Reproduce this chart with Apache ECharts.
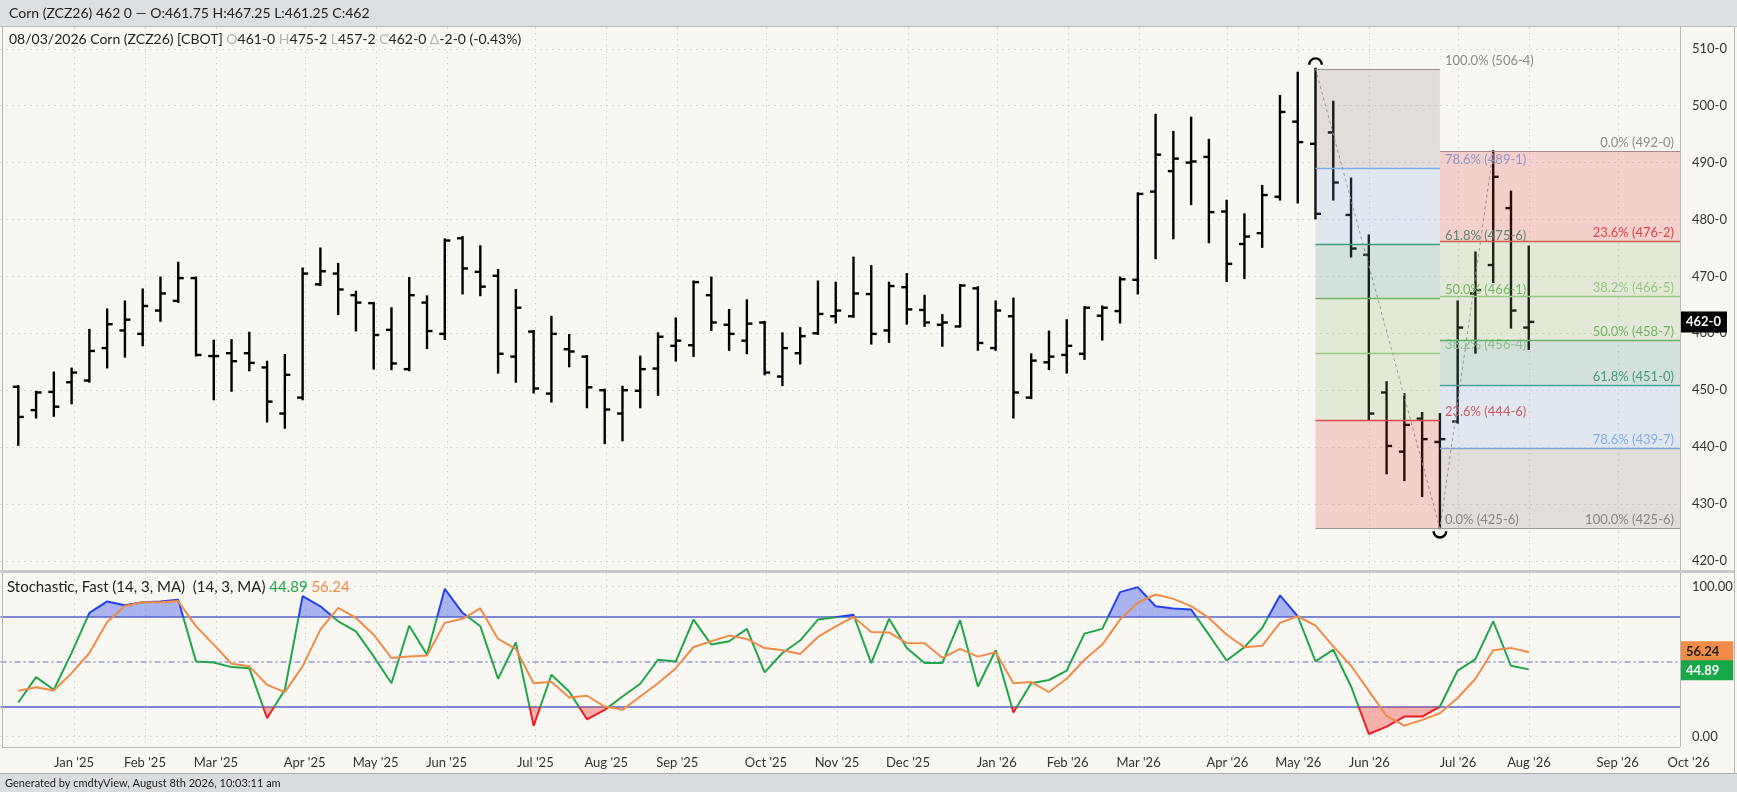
<!DOCTYPE html>
<html><head><meta charset="utf-8">
<script src="https://cdn.jsdelivr.net/npm/echarts@6/dist/echarts.min.js"></script>
<style>html,body{margin:0;padding:0;background:#f9f7f1;}#c{width:1737px;height:792px;}</style>
</head><body><div id="c"></div>
<script>
// ---------- DATA ----------
const monthTickIndex  = [3,7,11,16,20,24,29,33,37,42,46,50,55,59,63,68,72,76,81,85,90,94];
const monthTickLabels = ["Jan '25","Feb '25","Mar '25","Apr '25","May '25","Jun '25","Jul '25","Aug '25","Sep '25","Oct '25","Nov '25","Dec '25","Jan '26","Feb '26","Mar '26","Apr '26","May '26","Jun '26","Jul '26","Aug '26","Sep '26","Oct '26"];

const openP  = [450.6,446.5,449.7,451.4,451.7,457.4,460.5,459.9,464.0,465.7,469.7,456.0,456.5,456.5,454.0,445.9,448.7,468.6,470.5,466.7,465.3,460.6,453.7,465.4,459.9,476.7,470.8,470.1,455.9,460.3,449.4,457.2,455.9,450.0,445.9,449.9,453.8,457.8,457.9,466.7,461.5,458.7,461.9,452.4,456.5,460.0,463.0,463.0,466.9,460.5,468.1,464.1,461.5,461.2,467.9,457.4,463.0,448.7,454.9,456.2,456.4,463.1,463.9,469.4,484.9,488.5,490.0,491.0,481.4,475.7,477.6,484.0,497.2,493.3,495.3,480.8,473.8,449.6,439.2,445.0,440.9,444.5,467.0,472.0,482.0,461.0];
const highP  = [450.7,449.7,453.1,453.8,460.6,464.2,465.6,467.7,469.8,472.4,469.8,458.7,458.8,460.1,455.0,456.2,471.4,474.9,472.2,467.3,465.3,464.4,469.7,466.5,476.5,476.9,475.3,471.1,467.6,460.4,462.9,459.7,456.0,450.1,450.6,455.9,460.0,462.6,469.1,469.8,464.1,465.8,462.0,460.0,460.9,469.1,468.9,473.3,471.8,468.9,470.4,466.6,463.2,468.5,468.1,465.6,466.1,456.3,460.3,462.3,464.6,464.7,469.8,484.6,498.4,495.4,497.9,494.0,483.3,480.9,485.9,501.7,505.8,506.5,500.7,487.2,477.2,451.4,449.3,446.0,445.8,465.6,474.2,492.0,484.9,475.25];
const lowP   = [440.4,445.2,445.5,447.7,451.5,454.0,455.9,457.9,462.2,465.5,456.1,448.4,449.9,453.5,444.5,443.4,448.4,468.5,463.4,460.5,453.8,453.7,453.5,457.4,459.0,467.0,466.7,453.1,451.5,449.6,448.0,454.2,447.0,440.7,441.2,447.0,449.2,455.2,456.0,460.6,457.1,456.5,452.8,450.9,454.7,459.9,461.9,462.9,458.2,458.5,461.7,461.3,457.8,461.2,457.1,457.1,445.2,448.6,453.7,453.1,455.5,458.9,461.9,467.0,473.2,476.7,482.7,476.0,469.2,469.7,475.2,483.5,483.0,480.2,483.5,473.5,444.8,435.4,434.2,431.4,425.75,444.3,456.6,469.0,461.0,457.25];
const closeP = [445.3,449.6,447.1,453.1,456.9,461.6,462.4,464.8,467.0,469.7,456.2,456.0,455.1,454.8,448.0,452.7,470.5,470.9,467.7,465.4,459.7,454.7,466.7,460.4,476.3,471.4,468.2,456.4,464.5,450.3,459.9,456.8,450.5,446.6,450.0,453.7,459.4,458.7,469.0,461.9,459.9,461.7,453.1,457.4,459.5,463.4,464.0,467.0,459.9,468.3,464.2,461.9,461.9,468.4,458.3,464.0,449.6,455.2,455.9,457.8,464.5,464.5,469.5,484.5,491.4,490.7,490.2,481.3,472.2,477.0,484.3,498.9,493.6,481.0,486.5,474.9,445.9,440.2,443.9,441.4,441.4,461.0,467.6,487.5,464.0,462.0];

const stochK = [22.8,39.7,31.3,55.9,82.6,90.2,87.7,89.7,90.2,91.3,50.2,49.5,46.4,45.7,12.3,31.3,93.7,86.9,76.9,70.2,53.5,35.6,74.0,54.6,98.6,82.6,73.6,38.6,62.9,7.2,41.3,30.1,11.6,17.9,26.8,35.3,51.3,50.2,78.1,61.4,63.6,71.9,42.9,55.8,64.1,78.1,79.6,81.3,49.1,78.6,59.2,49.1,49.1,77.7,33.5,57.6,16.1,35.6,37.8,44.1,68.7,71.9,96.4,99.7,87.0,85.5,84.8,68.0,50.8,59.7,72.5,94.2,80.3,50.2,58.0,33.5,1.8,6.7,13.4,13.4,20.1,44.1,51.7,76.9,47.3,44.89];
const stochD = [30.6,33.0,30.8,42.4,55.8,76.4,87.1,89.7,89.7,90.4,73.6,61.4,48.6,46.9,34.6,29.7,46.9,71.4,85.9,79.2,68.0,52.4,53.5,54.2,75.9,78.6,85.5,65.2,58.5,35.6,36.7,26.2,27.3,20.1,17.9,26.8,35.6,45.7,59.8,63.6,67.4,65.2,59.1,57.6,55.1,66.5,73.6,79.8,69.8,69.5,62.4,62.3,52.6,58.6,53.4,56.3,35.7,36.4,29.8,38.6,51.3,61.4,78.1,89.3,94.8,91.9,87.0,79.2,68.0,59.7,60.6,75.9,80.3,74.0,60.2,47.3,30.6,13.8,7.4,11.2,15.6,25.8,38.6,57.6,59.2,56.24];

const fibARatios = [100,78.6,61.8,50,38.2,23.6,0];
const fibAPrices = [506.5,489.125,475.75,466.125,456.5,444.75,425.75];
const fibBRatios = [0,23.6,38.2,50,61.8,78.6,100];
const fibBPrices = [492.0,476.25,466.625,458.875,451.0,439.875,425.75];
const fibSwing   = [[73,506.5],[80,425.75],[83,492.0]];

// ---------- LAYOUT / STYLE ----------
const FONT = 'Lato, "Noto Sans", sans-serif';
const LY = {left:0.53, plotRight:1680, labelRight:1700, pxPerWeek:17.77,
  priceTop:48.8, priceH:512.1, stochTop:586.7, stochH:150,
  panelTop:27, priceBottom:570, stochTopEdge:573, stochBottom:747, footerTop:773};
const xMax  = -1 + (LY.plotRight - LY.left) / LY.pxPerWeek;
const xMax2 = -1 + (LY.labelRight - LY.left) / LY.pxPerWeek;

function fmtPrice(p){ const f = Math.floor(p + 1e-9); return f + '-' + Math.round((p - f) * 8); }
function bandColor(lo){
  if (lo < 23.6) return 'rgba(221,53,53,0.2)';
  if (lo < 50) return 'rgba(139,182,116,0.2)';
  if (lo < 61.8) return 'rgba(79,152,136,0.22)';
  if (lo < 78.6) return 'rgba(129,172,231,0.2)';
  return 'rgba(134,122,125,0.2)';
}
function levelColor(r){
  if (r === 23.6) return '#e04848';
  if (r === 38.2) return '#9bcd8b';
  if (r === 50) return '#6cba5e';
  if (r === 61.8) return '#3f9c80';
  if (r === 78.6) return '#7fb0f0';
  return '#9a9a9a';
}

const fibBands = [], fibLevels = [];
for (let k = 0; k < fibAPrices.length - 1; k++)
  fibBands.push({x0:fibSwing[0][0], x1:fibSwing[1][0], p1:fibAPrices[k], p2:fibAPrices[k+1], color:bandColor(Math.min(fibARatios[k],fibARatios[k+1]))});
for (let k = 0; k < fibBPrices.length - 1; k++)
  fibBands.push({x0:fibSwing[1][0], x1:null, p1:fibBPrices[k], p2:fibBPrices[k+1], color:bandColor(Math.min(fibBRatios[k],fibBRatios[k+1]))});
fibARatios.forEach((r,k)=>fibLevels.push({fib:'A', x0:fibSwing[0][0], x1:fibSwing[1][0], p:fibAPrices[k], r:r}));
fibBRatios.forEach((r,k)=>fibLevels.push({fib:'B', x0:fibSwing[1][0], x1:null, p:fibBPrices[k], r:r}));

const last = closeP.length - 1;
const chg = closeP[last] - closeP[last-1];
const chgPct = chg / closeP[last-1] * 100;

// value tags on the right axis
const priceTags = [{v:closeP[last], text:fmtPrice(closeP[last]), bg:'#000', fg:'#fff', pad:[4,6,4,6], dy:0}];
const stochTags = [
  {v:stochD[last], text:stochD[last].toFixed(2), bg:'#f08c47', fg:'#222', pad:[4,14,3,6], dy:-1},
  {v:stochK[last], text:stochK[last].toFixed(2), bg:'#18a84a', fg:'#fff', pad:[4,14,3,6], dy:1}
];

const chart = echarts.init(document.getElementById('c'), null, {renderer:'canvas', width:1737, height:792});

function fillPoly(api, x0, v0, x1, v1, thr, above, color){
  const inside = v => above ? v > thr : v < thr;
  const a = inside(v0), b = inside(v1);
  if (!a && !b) return null;
  let pts;
  if (a && b) pts = [[x0,thr],[x0,v0],[x1,v1],[x1,thr]];
  else {
    const t = (thr - v0) / (v1 - v0), xc = x0 + t * (x1 - x0);
    pts = a ? [[x0,thr],[x0,v0],[xc,thr]] : [[xc,thr],[x1,v1],[x1,thr]];
  }
  return {type:'polygon', shape:{points:pts.map(p=>api.coord(p))}, style:{fill:color}};
}
function tagRender(tags){
  return (params, api)=>{
    const t = tags[params.dataIndex], cs = params.coordSys;
    const y = api.coord([0, t.v])[1] + t.dy;
    return {type:'text', x:cs.x + cs.width, y:y, z2:10,
      style:{text:t.text, fill:t.fg, backgroundColor:t.bg, padding:t.pad,
        font:'bold 13px ' + FONT, align:'left', textAlign:'left', verticalAlign:'middle', textVerticalAlign:'middle'}};
  };
}

const option = {
  animation:false,
  backgroundColor:'#f9f7f1',
  grid:[
    {left:LY.left, top:LY.priceTop, width:LY.plotRight-LY.left, height:LY.priceH},
    {left:LY.left, top:LY.stochTop, width:LY.plotRight-LY.left, height:LY.stochH},
    {left:LY.left, top:LY.panelTop, width:LY.labelRight-LY.left, height:LY.stochBottom-LY.panelTop}
  ],
  xAxis:[
    {type:'value', gridIndex:0, min:-1, max:xMax, show:false},
    {type:'value', gridIndex:1, min:-1, max:xMax, show:false},
    {type:'value', gridIndex:2, min:-1, max:xMax2, interval:1,
      axisLine:{show:false}, axisTick:{show:false}, splitLine:{show:false},
      axisLabel:{margin:9, color:'#333', fontSize:13, fontFamily:FONT,
        formatter:v=>{const k = monthTickIndex.indexOf(Math.round(v)); return (k>=0 && Math.abs(v-Math.round(v))<1e-6) ? monthTickLabels[k] : '';}}}
  ],
  yAxis:[
    {type:'value', gridIndex:0, position:'right', min:420, max:510, interval:10,
      axisLine:{show:false}, axisTick:{show:false},
      axisLabel:{margin:12, color:'#333', fontSize:13, fontFamily:FONT, formatter:v=>fmtPrice(v)},
      splitLine:{lineStyle:{color:'#d2d2d2', width:1, type:[1.5,4.5]}}},
    {type:'value', gridIndex:1, position:'right', min:0, max:100, interval:100,
      axisLine:{show:false}, axisTick:{show:false},
      axisLabel:{margin:12, color:'#333', fontSize:13, fontFamily:FONT, formatter:v=>v.toFixed(2)},
      splitLine:{lineStyle:{color:'#d2d2d2', width:1, type:[1.5,4.5]}}},
    {type:'value', gridIndex:2, min:0, max:1, show:false}
  ],
  visualMap:[{show:false, type:'piecewise', seriesIndex:7, dimension:1,
    pieces:[{lt:20, color:'#f01c24'},{gte:20, lte:80, color:'#1fa64a'},{gt:80, color:'#2342f0'}]}],
  graphic:[
    {type:'rect', z:100, shape:{x:0,y:0,width:1737,height:LY.panelTop}, style:{fill:'#dde0e3'}},
    {type:'rect', z:100, shape:{x:0,y:LY.panelTop-1,width:1737,height:1}, style:{fill:'#b9bdc1'}},
    {type:'text', z:101, x:9, y:13, style:{text:'Corn (ZCZ26) 462 0 — O:461.75 H:467.25 L:461.25 C:462', fill:'#222', font:'14px '+FONT, verticalAlign:'middle', textVerticalAlign:'middle'}},
    {type:'text', z:101, x:9, y:39, style:{
      text:'{d|08/03/2026 Corn (ZCZ26) [CBOT] }{g|O}{d|'+fmtPrice(openP[last])+' }{g|H}{d|'+fmtPrice(highP[last])+' }{g|L}{d|'+fmtPrice(lowP[last])+' }{g|C}{d|'+fmtPrice(closeP[last])+' }{g|Δ}{d|'+(chg<0?'-':'')+fmtPrice(Math.abs(chg))+' ('+chgPct.toFixed(2)+'%)}',
      rich:{d:{fill:'#222', fontSize:14, fontFamily:FONT}, g:{fill:'#b4b4b4', fontSize:14, fontFamily:FONT}},
      verticalAlign:'middle', textVerticalAlign:'middle'}},
    {type:'text', z:101, x:7, y:LY.stochTop, style:{
      text:'{d|Stochastic, Fast (14, 3, MA)  (14, 3, MA) }{k|'+stochK[last].toFixed(2)+' }{o|'+stochD[last].toFixed(2)+'}',
      rich:{d:{fill:'#222', fontSize:15, fontFamily:FONT}, k:{fill:'#1fa64a', fontSize:15, fontFamily:FONT}, o:{fill:'#f08c47', fontSize:15, fontFamily:FONT}},
      verticalAlign:'middle', textVerticalAlign:'middle'}},
    {type:'rect', z:100, shape:{x:2, y:LY.panelTop, width:1, height:LY.stochBottom-LY.panelTop}, style:{fill:'#b8b8b8'}},
    {type:'rect', z:100, shape:{x:LY.plotRight, y:LY.panelTop, width:1, height:LY.stochBottom-LY.panelTop}, style:{fill:'#b8b8b8'}},
    {type:'rect', z:100, shape:{x:0, y:LY.priceBottom, width:1735, height:3}, style:{fill:'#cacaca'}},
    {type:'rect', z:100, shape:{x:2, y:LY.stochBottom, width:LY.plotRight-2, height:1}, style:{fill:'#b8b8b8'}},
    {type:'rect', z:100, shape:{x:1734, y:LY.panelTop, width:1, height:LY.footerTop-LY.panelTop}, style:{fill:'#b8b8b8'}},
    {type:'rect', z:100, shape:{x:0, y:LY.footerTop, width:1737, height:792-LY.footerTop}, style:{fill:'#dadde0'}},
    {type:'rect', z:100, shape:{x:0, y:LY.footerTop, width:1737, height:1}, style:{fill:'#a8acb0'}},
    {type:'text', z:101, x:5, y:783, style:{text:'Generated by cmdtyView, August 8th 2026, 10:03:11 am', fill:'#222', font:'11px '+FONT, verticalAlign:'middle', textVerticalAlign:'middle'}}
  ],
  series:[
    // 0 month gridlines
    {type:'custom', xAxisIndex:2, yAxisIndex:2, z:1, silent:true,
      data:monthTickIndex.map(i=>[i,0]),
      renderItem:(params, api)=>{
        const x = Math.round(api.coord([api.value(0),0])[0]) + 0.5;
        if (x >= LY.plotRight - 1) return null;
        const st = ()=>({stroke:'#d2d2d2', lineWidth:1, lineDash:[1.5,4.5]});
        return {type:'group', children:[
          {type:'line', shape:{x1:x,y1:LY.panelTop,x2:x,y2:LY.priceBottom}, style:st()},
          {type:'line', shape:{x1:x,y1:LY.stochTopEdge,x2:x,y2:LY.stochBottom}, style:st()}
        ]};
      }},
    // 1 OHLC bars
    {type:'custom', xAxisIndex:0, yAxisIndex:0, z:3, silent:true,
      data:openP.map((o,i)=>[i,o,highP[i],lowP[i],closeP[i]]),
      encode:{x:0, y:[1,2,3,4]},
      renderItem:(params, api)=>{
        const i = api.value(0);
        const pO = api.coord([i, api.value(1)]), pH = api.coord([i, api.value(2)]);
        const pL = api.coord([i, api.value(3)]), pC = api.coord([i, api.value(4)]);
        const x = pH[0], t = 5.5;
        const st = ()=>({stroke:'#000', lineWidth:2.4});
        return {type:'group', children:[
          {type:'line', shape:{x1:x,y1:pH[1]-1,x2:x,y2:pL[1]+1}, style:st()},
          {type:'line', shape:{x1:x-t,y1:pO[1],x2:x,y2:pO[1]}, style:st()},
          {type:'line', shape:{x1:x,y1:pC[1],x2:x+t,y2:pC[1]}, style:st()}
        ]};
      }},
    // 2 fib lines + labels
    {type:'custom', xAxisIndex:0, yAxisIndex:0, z:4, silent:true,
      data:fibLevels.map(l=>[l.x0,l.p]),
      renderItem:(params, api)=>{
        const l = fibLevels[params.dataIndex], cs = params.coordSys;
        const a = api.coord([l.x0, l.p]);
        const x1 = l.x1 === null ? cs.x + cs.width : api.coord([l.x1, l.p])[0];
        const y = Math.round(a[1]) + 0.5, col = levelColor(l.r);
        const txt = l.r.toFixed(1) + '% (' + fmtPrice(l.p) + ')';
        const isA = l.fib === 'A';
        return {type:'group', children:[
          {type:'line', shape:{x1:a[0],y1:y,x2:x1,y2:y}, style:{stroke:col, lineWidth:(l.r===0||l.r===100)?1.2:1.3}},
          {type:'text', x:isA ? x1 + 5 : x1 - 6, y:y - 2,
            style:{text:txt, fill:(l.r===0||l.r===100)?'#8a8a8a':col, font:'13px '+FONT,
              align:isA?'left':'right', textAlign:isA?'left':'right', verticalAlign:'bottom', textVerticalAlign:'bottom'}}
        ]};
      }},
    // 3 swing dashed line
    {type:'line', xAxisIndex:0, yAxisIndex:0, z:4, silent:true, symbol:'none',
      data:fibSwing, lineStyle:{color:'#9a9a9a', width:1, type:[3,3]}},
    // 4 fib boxes (overlay)
    {type:'custom', xAxisIndex:0, yAxisIndex:0, z:5, silent:true,
      data:fibBands.map(b=>[b.x0,b.p1]),
      renderItem:(params, api)=>{
        const b = fibBands[params.dataIndex], cs = params.coordSys;
        const a = api.coord([b.x0, b.p1]);
        const c2 = api.coord([b.x0, b.p2]);
        const x1 = b.x1 === null ? cs.x + cs.width : api.coord([b.x1, b.p2])[0];
        return {type:'rect', shape:{x:a[0], y:a[1], width:x1-a[0], height:c2[1]-a[1]}, style:{fill:b.color}};
      }},
    // 5 swing arcs
    {type:'custom', xAxisIndex:0, yAxisIndex:0, z:6, silent:true,
      data:[[fibSwing[0][0], fibSwing[0][1], 1],[fibSwing[1][0], fibSwing[1][1], 0]],
      renderItem:(params, api)=>{
        const p = api.coord([api.value(0), api.value(1)]);
        const top = api.value(2) === 1;
        return {type:'arc', shape:{cx:p[0], cy:top ? p[1]-4 : p[1]+3, r:6.3,
          startAngle: top ? Math.PI : 0, endAngle: top ? 2*Math.PI : Math.PI, clockwise:true},
          style:{stroke:'#000', lineWidth:2.4, fill:null}};
      }},
    // 6 stochastic fills
    {type:'custom', xAxisIndex:1, yAxisIndex:1, z:2, silent:true,
      data:stochK.slice(0,-1).map((v,i)=>[i,v,stochK[i+1]]),
      renderItem:(params, api)=>{
        const i = api.value(0), v0 = api.value(1), v1 = api.value(2);
        const ch = [];
        const up = fillPoly(api, i, v0, i+1, v1, 80, true, 'rgba(60,85,235,0.42)');
        const dn = fillPoly(api, i, v0, i+1, v1, 20, false, 'rgba(240,60,60,0.38)');
        if (up) ch.push(up); if (dn) ch.push(dn);
        return {type:'group', children:ch};
      }},
    // 7 %K
    {type:'line', xAxisIndex:1, yAxisIndex:1, z:3, silent:true, symbol:'none',
      data:stochK.map((v,i)=>[i,v]), lineStyle:{width:2}},
    // 8 %D + reference lines
    {type:'line', xAxisIndex:1, yAxisIndex:1, z:4, silent:true, symbol:'none',
      data:stochD.map((v,i)=>[i,v]), lineStyle:{width:2, color:'#f08c47'}, itemStyle:{color:'#f08c47'},
      markLine:{silent:true, symbol:['none','none'], animation:false, z:2, label:{show:false},
        data:[
          {yAxis:80, lineStyle:{color:'#8088d4', width:2, type:'solid'}},
          {yAxis:20, lineStyle:{color:'#8088d4', width:2, type:'solid'}},
          {yAxis:50, lineStyle:{color:'#959ad8', width:1.5, type:[6,3,2,3]}}
        ]}},
    // 9 price tag
    {type:'custom', xAxisIndex:0, yAxisIndex:0, z:20, silent:true, clip:false,
      data:priceTags.map(t=>[xMax, t.v]), renderItem:tagRender(priceTags)},
    // 10 stochastic tags
    {type:'custom', xAxisIndex:1, yAxisIndex:1, z:20, silent:true, clip:false,
      data:stochTags.map(t=>[xMax, t.v]), renderItem:tagRender(stochTags)}
  ]
};
chart.setOption(option);
</script></body></html>
